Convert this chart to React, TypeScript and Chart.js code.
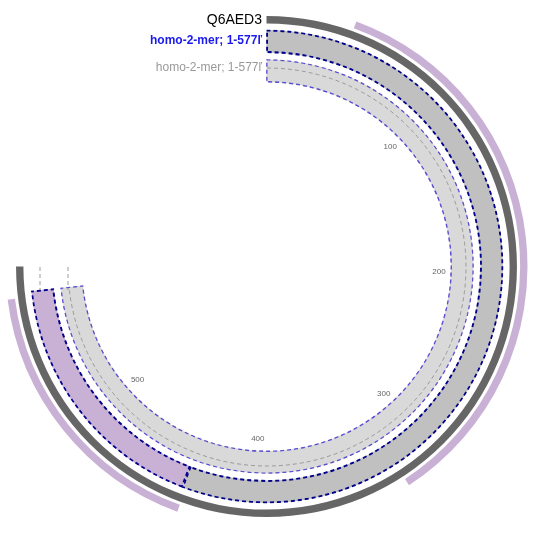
import React, { useEffect, useRef } from 'react';
import Chart from 'chart.js/auto';

const DOMAIN = 590;
const LENGTH = 577;
const outerSegments = [44, 277, 116, 137, 16];
const outerColors = ['rgba(0,0,0,0)', '#c9b1d6', 'rgba(0,0,0,0)', '#c9b1d6', 'rgba(0,0,0,0)'];
const bandASegments = [439, 138, 13];
const bandAColors = ['#c0c0c0', '#c9b1d6', 'rgba(0,0,0,0)'];
const bandBSegments = [577, 13];
const bandBColors = ['#d9d9d9', 'rgba(0,0,0,0)'];
const tickValues = [100, 200, 300, 400, 500];

const CX = 267;
const CY = 267;

const toAngle = (v: number) => -Math.PI / 2 + (v / DOMAIN) * 1.5 * Math.PI;

const App: React.FC = () => {
  const chartRef = useRef<HTMLCanvasElement>(null);

  useEffect(() => {
    if (!chartRef.current) return;
    const gap = { data: [DOMAIN], backgroundColor: ['rgba(0,0,0,0)'], borderWidth: 0 };
    const overlay = {
      id: 'overlay',
      afterDatasetsDraw(chart: any) {
        const ctx = chart.ctx;
        ctx.save();
        ctx.setLineDash([4, 3]);
        ctx.strokeStyle = '#9a9a9a';
        ctx.lineWidth = 1;
        ctx.beginPath();
        ctx.arc(CX, CY, 199, toAngle(0), toAngle(LENGTH));
        ctx.stroke();
        ctx.beginPath();
        ctx.moveTo(40, CY); ctx.lineTo(40, 290);
        ctx.moveTo(68, CY); ctx.lineTo(68, 290);
        ctx.stroke();
        ctx.setLineDash([]);
        ctx.fillStyle = '#666';
        ctx.font = '8px Arial, "Liberation Sans", sans-serif';
        ctx.textAlign = 'center';
        ctx.textBaseline = 'middle';
        tickValues.forEach((t) => {
          const a = toAngle(t);
          ctx.fillText(String(t), CX + 172 * Math.cos(a), CY + 172 * Math.sin(a));
        });
        ctx.restore();
      },
    };
    const chart = new Chart(chartRef.current, {
      type: 'doughnut',
      data: {
        labels: outerSegments.map((_, i) => String(i)),
        datasets: [
          { data: outerSegments, backgroundColor: outerColors, borderWidth: 0, weight: 7 } as any,
          { ...gap, weight: 3 },
          { data: [DOMAIN], backgroundColor: ['#666666'], borderWidth: 0, weight: 7 },
          { ...gap, weight: 6 },
          { data: bandASegments, backgroundColor: bandAColors, borderColor: ['#00008b', '#00008b', 'rgba(0,0,0,0)'], borderWidth: 1.5, borderDash: [4, 3], borderAlign: 'inner', weight: 22 },
          { ...gap, weight: 6 },
          { data: bandBSegments, backgroundColor: bandBColors, borderColor: ['#5a4fcf', 'rgba(0,0,0,0)'], borderWidth: 1, borderDash: [4, 3], borderAlign: 'inner', weight: 22 },
        ],
      },
      options: {
        animation: false,
        responsive: false,
        rotation: 0,
        circumference: 270,
        radius: 261,
        cutout: 188,
        spacing: 0,
        plugins: { legend: { display: false }, tooltip: { enabled: false } },
        layout: { padding: 0 },
      } as any,
      plugins: [overlay],
    });
    return () => chart.destroy();
  }, []);

  const font = 'Arial, "Liberation Sans", sans-serif';
  return (
    <div style={{ position: 'fixed', left: 0, top: 0, width: 533, height: 533, background: '#fff', fontFamily: font }}>
      <canvas ref={chartRef} width={533} height={533} style={{ position: 'absolute', left: 0, top: 0 }} />
      <div style={{ position: 'absolute', right: 271, top: 11, fontSize: 14, color: '#000' }}>Q6AED3</div>
      <div style={{ position: 'absolute', right: 271, top: 33, fontSize: 12, fontWeight: 'bold', color: '#1a1aee' }}>homo-2-mer; 1-577ľ</div>
      <div style={{ position: 'absolute', right: 271, top: 60, fontSize: 12, color: '#999' }}>homo-2-mer; 1-577ľ</div>
    </div>
  );
};

export default App;
